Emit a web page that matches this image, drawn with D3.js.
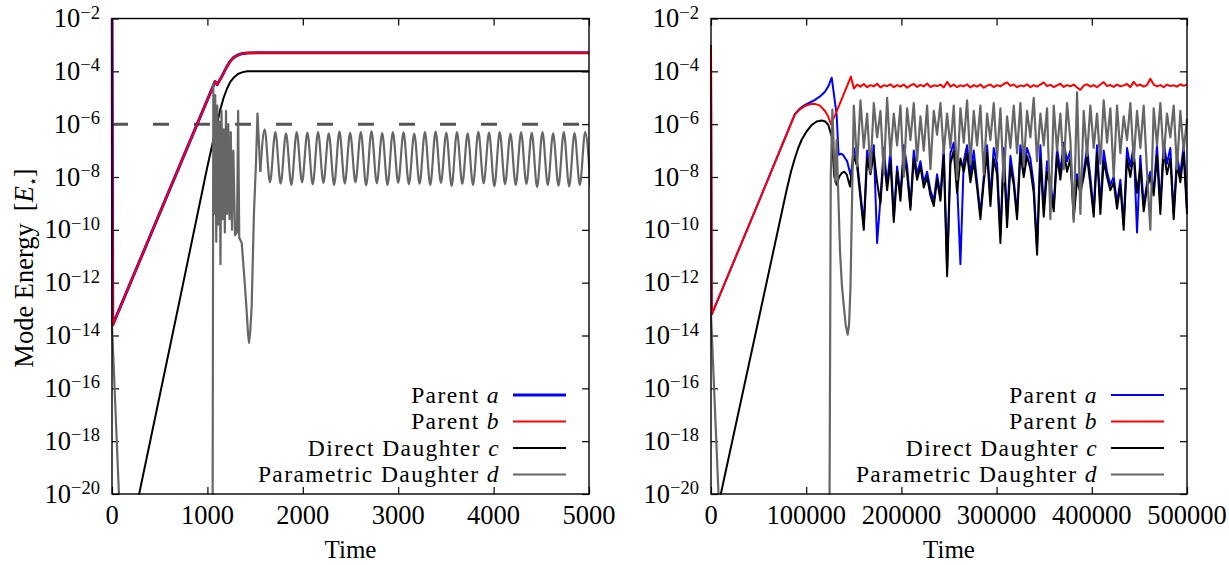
<!DOCTYPE html>
<html>
<head>
<meta charset="utf-8">
<script src="https://cdn.jsdelivr.net/npm/d3@7"></script>
<style>
  body { margin: 0; background: #fff; }
  svg text { font-family: "Liberation Serif", "Times New Roman", serif; fill: #000; }
</style>
</head>
<body>
<svg id="chart" width="1229" height="565"></svg>
<script>
// ---- data (times, log10 of mode energy) ----
const yTickExp = [-20, -18, -16, -14, -12, -10, -8, -6, -4, -2]
const leftXTicks = [0, 1000, 2000, 3000, 4000, 5000]
const rightXTicks = [0, 100000, 200000, 300000, 400000, 500000]
const legendNames = ['Parent ', 'Parent ', 'Direct Daughter ', 'Parametric Daughter ']
const legendSymbols = ['a', 'b', 'c', 'd']
const THRESHOLD_EXP = -6

// left panel
const leftParentA = [[0, -2.0], [8, -13.6], [713, -7.54], [1080, -4.39], [1103, -4.5], [1150, -4.2], [1200, -3.85],
  [1235, -3.64], [1270, -3.49], [1310, -3.4], [1360, -3.33], [1420, -3.31], [1517, -3.3], [5000, -3.3]]
const leftParentB = [[0, -2.0], [8, -13.6], [713, -7.54], [1080, -4.39], [1103, -4.5], [1150, -4.2], [1200, -3.85],
  [1235, -3.64], [1270, -3.49], [1310, -3.4], [1360, -3.33], [1420, -3.31], [1517, -3.3], [5000, -3.3]]
const leftDaughterC = [[270, -20.25], [713, -12.6], [1000, -7.6], [1050, -6.8], [1100, -6.0], [1135, -5.45],
  [1170, -5.0], [1205, -4.66], [1240, -4.4], [1280, -4.22], [1320, -4.1], [1370, -4.03], [1420, -4.0], [5000, -4.0]]
const leftDaughterD = [[0, -13.6], [75, -20.2], [1055, -20.4], [1062, -4.5], [1072, -9.4], [1082, -4.9], [1093, -10.45],
  [1104, -5.3], [1115, -9.8], [1126, -5.9], [1137, -11.3], [1148, -5.5], [1160, -9.6], [1171, -6.2], [1183, -10.1],
  [1195, -5.5], [1207, -9.4], [1219, -6.0], [1232, -9.6], [1245, -6.3], [1258, -10.0], [1272, -7.0], [1290, -10.2],
  [1310, -10.1], [1322, -5.5], [1334, -10.3], [1360, -10.5], [1395, -12.2], [1412, -13.1], [1425, -13.9],
  [1436, -14.27], [1448, -13.9], [1464, -12.9], [1488, -9.36], [1509, -7.5], [1525, -5.6], [1555, -7.8]]
// steady oscillation of d after t ~ 1600: peak, trough, peak, ...
const OSC_T0 = 1600, OSC_HALF = 56
const leftDaughterDOsc = [
  -6.2, -8.2, -6.3, -8.25, -6.35, -8.3, -6.3, -8.2, -6.32, -8.28,
  -6.3, -8.22, -6.35, -8.3, -6.28, -8.25, -6.33, -8.2, -6.3, -8.32,
  -6.27, -8.24, -6.34, -8.3, -6.3, -8.22, -6.31, -8.28, -6.36, -8.25,
  -6.3, -8.3, -6.28, -8.22, -6.33, -8.34, -6.3, -8.26, -6.35, -8.3,
  -6.29, -8.24, -6.32, -8.35, -6.3, -8.28, -6.36, -8.3, -6.31, -8.26,
  -6.33, -8.38, -6.3, -8.3, -6.35, -8.33, -6.3, -8.36, -6.34, -8.3,
  -6.3, -8.38]

// right panel
const rightParentA = [[0, -3.0], [800, -13.2], [50000, -8.95], [88000, -5.62], [93000, -5.42], [98700, -5.27],
  [104000, -5.18], [109200, -5.08], [114500, -4.95], [119700, -4.77], [123500, -4.55], [126800, -4.24],
  [132000, -5.65], [134000, -7.16], [136500, -7.12], [138700, -7.16], [141000, -7.3], [143000, -7.4], [147000, -7.98]]
const rightParentB = [[0, -3.0], [800, -13.2], [50000, -8.95], [88000, -5.65], [93000, -5.45], [98700, -5.31],
  [104000, -5.25], [109200, -5.23], [114500, -5.3], [119700, -5.5], [123000, -5.7], [126000, -6.0],
  [130500, -5.65], [147000, -4.2]]
const rightDaughterC = [[10000, -20.05], [79500, -8.48], [84000, -7.8], [88000, -7.3], [91500, -6.92], [95250, -6.59],
  [100500, -6.27], [105800, -6.03], [111000, -5.9], [116300, -5.86], [120000, -5.9], [123200, -6.03],
  [126800, -6.47], [129500, -7.98], [132000, -8.3], [134500, -8.0], [137300, -7.85], [140000, -7.8],
  [142500, -7.9], [146000, -8.36]]
const rightDaughterD = [[0, -13.21], [8000, -20.1], [124500, -20.3], [125800, -8.0], [127500, -5.45], [129000, -7.0],
  [130500, -8.2], [132000, -6.6], [133800, -8.8], [135500, -10.8], [137500, -12.1], [139500, -12.9],
  [141500, -13.6], [143600, -13.97], [145000, -13.6], [146500, -12.2], [148500, -8.2]]
// saturated, noisy regime, sampled every NOISE_DT from NOISE_T0
const NOISE_T0 = 150000, NOISE_DT = 3500
const rightNoiseA = [
  -6.9, -7.4, -8.6, -9.8, -7.0, -7.7, -6.8, -10.5, -8.8, -6.9,
  -8.3, -7.0, -9.5, -7.6, -8.7, -6.8, -7.6, -9.1, -7.0, -7.9,
  -7.4, -8.2, -7.8, -8.5, -8.9, -7.9, -8.7, -6.9, -11.5, -7.1,
  -6.7, -8.2, -11.3, -7.4, -6.8, -7.9, -7.0, -8.2, -9.4, -8.0,
  -6.8, -8.8, -6.9, -7.5, -10.2, -6.9, -9.6, -7.2, -8.1, -9.4,
  -6.8, -7.7, -6.9, -7.3, -8.3, -10.7, -6.8, -9.2, -7.4, -8.2,
  -9.1, -6.9, -7.8, -6.7, -7.4, -7.0, -9.4, -7.9, -8.4, -7.8,
  -6.9, -8.0, -9.3, -6.8, -9.1, -7.0, -7.8, -8.3, -8.0, -9.0,
  -8.1, -9.8, -6.9, -7.6, -6.8, -10.1, -7.2, -9.1, -8.2, -7.8,
  -8.5, -6.8, -9.1, -6.7, -7.5, -6.9, -9.4, -7.2, -7.9, -6.8, -9.2]
const rightNoiseB = [
  -4.65, -4.5, -4.58, -4.48, -4.6, -4.52, -4.57, -4.47, -4.61, -4.53,
  -4.56, -4.49, -4.6, -4.52, -4.58, -4.5, -4.62, -4.53, -4.48, -4.59,
  -4.51, -4.57, -4.46, -4.6, -4.53, -4.56, -4.5, -4.61, -4.4, -4.58,
  -4.5, -4.6, -4.53, -4.57, -4.49, -4.61, -4.52, -4.58, -4.5, -4.62,
  -4.54, -4.5, -4.6, -4.52, -4.57, -4.48, -4.42, -4.55, -4.5, -4.6,
  -4.53, -4.57, -4.49, -4.6, -4.52, -4.58, -4.5, -4.42, -4.56, -4.51,
  -4.6, -4.53, -4.47, -4.59, -4.52, -4.57, -4.5, -4.61, -4.7, -4.54,
  -4.49, -4.58, -4.52, -4.6, -4.5, -4.41, -4.56, -4.52, -4.59, -4.5,
  -4.57, -4.53, -4.48, -4.6, -4.4, -4.55, -4.5, -4.58, -4.52, -4.28,
  -4.5, -4.57, -4.52, -4.6, -4.5, -4.56, -4.53, -4.58, -4.49, -4.55, -4.5]
const rightNoiseC = [
  -7.2, -7.6, -8.8, -10.0, -7.3, -7.9, -7.1, -8.2, -9.0, -7.2,
  -8.5, -7.4, -9.7, -7.8, -8.9, -7.1, -7.9, -9.24, -7.3, -8.1,
  -7.6, -8.4, -8.0, -8.7, -9.1, -8.1, -8.9, -7.2, -11.76, -7.5,
  -7.0, -8.6, -7.3, -7.8, -7.1, -8.2, -7.4, -8.4, -9.6, -8.2,
  -7.1, -9.1, -7.3, -7.9, -10.5, -7.2, -9.9, -7.6, -8.3, -9.6,
  -7.1, -8.0, -7.2, -7.7, -8.6, -10.94, -7.3, -9.5, -7.8, -8.4,
  -9.3, -7.2, -8.1, -7.0, -7.8, -7.3, -9.6, -8.1, -8.6, -8.0,
  -7.2, -8.3, -9.5, -7.1, -9.4, -7.4, -8.0, -8.5, -8.2, -9.2,
  -8.3, -10.0, -7.3, -8.0, -7.1, -8.6, -7.6, -9.3, -8.4, -8.0,
  -8.7, -7.2, -9.4, -7.0, -7.9, -7.3, -9.6, -7.5, -8.2, -7.1, -9.4]
const rightNoiseD = [
  -5.3, -7.6, -5.1, -6.9, -5.6, -7.8, -5.2, -6.5, -5.5, -7.9,
  -5.0, -7.2, -5.6, -6.8, -5.3, -8.0, -5.4, -6.6, -5.2, -7.4,
  -5.7, -7.0, -5.3, -7.7, -5.5, -6.4, -5.2, -7.1, -5.6, -6.9,
  -5.3, -8.1, -5.4, -6.7, -5.1, -7.5, -5.5, -6.8, -5.3, -7.9,
  -5.6, -6.6, -5.2, -7.3, -5.4, -8.2, -5.7, -6.9, -5.3, -7.1,
  -5.2, -7.6, -5.5, -6.5, -5.0, -7.4, -5.6, -6.8, -5.4, -9.6,
  -5.3, -7.0, -5.6, -7.7, -5.2, -6.6, -9.7, -4.8, -9.4, -5.5,
  -7.2, -5.3, -6.9, -5.6, -7.5, -5.1, -6.7, -5.4, -8.0, -5.3,
  -7.1, -5.7, -6.6, -5.2, -7.4, -5.5, -6.9, -5.3, -7.8, -10.0,
  -5.4, -6.8, -5.2, -7.3, -5.6, -6.5, -5.3, -7.7, -5.5, -7.0, -5.8]

// ---- layout ----
const TOP = 18.5, BOTTOM = 494
const PANELS = [{ left: 112, right: 589 }, { left: 711, right: 1187 }]
const COLORS = ['#0000ff', '#ff0000', '#000000', '#666666']
const FONT = 26.5
const LEGEND_FONT = 23.5

const withNoise = (pts, noise) => pts.concat(noise.map((v, k) => [NOISE_T0 + k * NOISE_DT, v]))
const oscPoints = (first, osc) => [first].concat(osc.map((v, k) => [OSC_T0 + k * OSC_HALF, v]))

const svg = d3.select('#chart')

function drawPanel(p, xMax, xTicks, series, widths, opts) {
  const x = d3.scaleLinear().domain([0, xMax]).range([p.left, p.right])
  const y = d3.scaleLog().domain([1e-20, 1e-2]).range([BOTTOM, TOP])
  const g = svg.append('g')
  const clipId = 'clip-' + p.left
  const yVals = yTickExp.map(e => 10 ** e)

  g.append('clipPath').attr('id', clipId).append('rect')
    .attr('x', p.left - 1.5).attr('y', TOP - 1)
    .attr('width', p.right - p.left + 2.5).attr('height', BOTTOM - TOP + 1.5)

  // inward ticks on all four sides
  g.append('g').attr('transform', `translate(${p.left},0)`)
    .call(d3.axisLeft(y).tickValues(yVals).tickSize(-7).tickFormat(''))
  g.append('g').attr('transform', `translate(${p.right},0)`)
    .call(d3.axisRight(y).tickValues(yVals).tickSize(-7).tickFormat(''))
  g.append('g').attr('transform', `translate(0,${TOP})`)
    .call(d3.axisTop(x).tickValues(xTicks).tickSize(-7).tickFormat(''))
  g.append('g').attr('transform', `translate(0,${BOTTOM})`)
    .call(d3.axisBottom(x).tickValues(xTicks).tickSize(-7).tickFormat(''))
  g.selectAll('.domain').remove()
  g.selectAll('.tick line').attr('stroke', '#000').attr('stroke-width', 1.2)

  // y tick labels 10^e
  g.selectAll('.ylab').data(yTickExp).join('text')
    .attr('class', 'ylab')
    .attr('x', p.left - 12).attr('y', e => y(10 ** e) + 8.5)
    .attr('text-anchor', 'end').style('font-size', FONT + 'px')
    .each(function (e) {
      const t = d3.select(this)
      t.append('tspan').text('10')
      t.append('tspan').attr('dy', -8.5).style('font-size', '18.5px').text('\u2212' + Math.abs(e))
    })

  g.selectAll('.xlab').data(xTicks).join('text')
    .attr('class', 'xlab')
    .attr('x', d => x(d)).attr('y', BOTTOM + 30)
    .attr('text-anchor', 'middle').style('font-size', FONT + 'px')
    .text(d => d)

  g.append('text')
    .attr('x', (p.left + p.right) / 2).attr('y', 558)
    .attr('text-anchor', 'middle').style('font-size', '25px')
    .text('Time')

  // curves
  const line = d3.line().x(d => x(d[0])).y(d => y(10 ** d[1]))
  const smooth = d3.line().x(d => x(d[0])).y(d => y(10 ** d[1])).curve(d3.curveMonotoneX)
  const lg = g.append('g').attr('clip-path', `url(#${clipId})`)

  if (opts.threshold) {
    lg.append('line')
      .attr('x1', p.left).attr('x2', p.right)
      .attr('y1', y(10 ** THRESHOLD_EXP)).attr('y2', y(10 ** THRESHOLD_EXP))
      .attr('stroke', '#555').attr('stroke-width', 3)
      .attr('stroke-dasharray', '16,25')
  }

  series.forEach((pts, i) => {
    lg.append('path').datum(pts)
      .attr('fill', 'none')
      .attr('stroke', COLORS[i])
      .attr('stroke-width', widths[i])
      .attr('stroke-linejoin', 'round')
      .attr('d', line)
    if (opts.smoothTail && opts.smoothTail[i]) {
      lg.append('path').datum(opts.smoothTail[i])
        .attr('fill', 'none')
        .attr('stroke', COLORS[i])
        .attr('stroke-width', widths[i])
        .attr('d', smooth)
    }
  })

  // frame
  g.append('rect')
    .attr('x', p.left).attr('y', TOP)
    .attr('width', p.right - p.left).attr('height', BOTTOM - TOP)
    .attr('fill', 'none').attr('stroke', '#000').attr('stroke-width', 1.4)

  // legend
  legendNames.forEach((name, i) => {
    const cy = 395 + i * 26.5
    const t = g.append('text')
      .attr('x', p.right - 89).attr('y', cy + 7.5)
      .attr('text-anchor', 'end').style('font-size', LEGEND_FONT + 'px')
      .style('letter-spacing', '1.4px')
    t.append('tspan').text(name)
    t.append('tspan').style('font-style', 'italic').text(legendSymbols[i])
    g.append('line')
      .attr('x1', p.right - 76).attr('x2', p.right - 23)
      .attr('y1', cy).attr('y2', cy)
      .attr('stroke', COLORS[i]).attr('stroke-width', widths[i])
  })
}

drawPanel(PANELS[0], 5000, leftXTicks,
  [leftParentA, leftParentB, leftDaughterC, leftDaughterD],
  [3, 2, 2, 2.2],
  { threshold: true, smoothTail: [null, null, null, oscPoints(leftDaughterD[leftDaughterD.length - 1], leftDaughterDOsc)] })

drawPanel(PANELS[1], 500000, rightXTicks,
  [withNoise(rightParentA, rightNoiseA), withNoise(rightParentB, rightNoiseB),
   withNoise(rightDaughterC, rightNoiseC), withNoise(rightDaughterD, rightNoiseD)],
  [2, 2, 2, 2.2], { threshold: false })

// y axis title
const yTitle = svg.append('text')
  .attr('transform', 'translate(33,268) rotate(-90)')
  .attr('text-anchor', 'middle').style('font-size', FONT + 'px')
yTitle.append('tspan').text('Mode Energy')
yTitle.append('tspan').attr('dx', 12).text('[')
yTitle.append('tspan').style('font-style', 'italic').text('E')
yTitle.append('tspan').attr('dy', 5).style('font-size', '15px').text('\u22c6')
yTitle.append('tspan').attr('dy', -5).text(']')
</script>
</body>
</html>
